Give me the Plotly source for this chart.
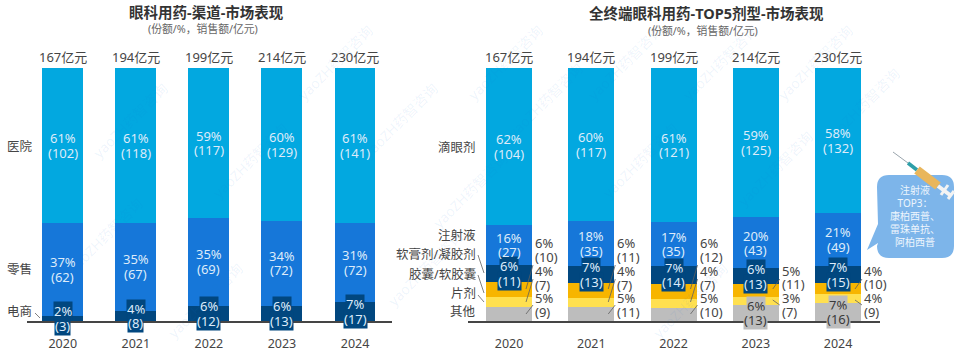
import plotly.graph_objects as go

years = [2020, 2021, 2022, 2023, 2024]
totals = ["167亿元", "194亿元", "199亿元", "214亿元", "230亿元"]

ch_names = ["电商", "零售", "医院"]
ch_sales = [[3, 8, 12, 13, 17], [62, 67, 69, 72, 72], [102, 118, 117, 129, 141]]
ch_share = [[2, 4, 6, 6, 7], [37, 35, 35, 34, 31], [61, 61, 59, 60, 61]]

df_names = ["其他", "片剂", "胶囊/软胶囊", "软膏剂/凝胶剂", "注射液", "滴眼剂"]
df_sales = [[9, 11, 10, 13, 16], [7, 7, 7, 7, 9], [10, 11, 12, 11, 10],
            [11, 13, 14, 13, 15], [27, 35, 35, 43, 49], [104, 117, 121, 125, 132]]
df_share = [[5, 5, 5, 6, 7], [4, 4, 4, 3, 4], [6, 6, 6, 5, 4],
            [6, 7, 7, 6, 7], [16, 18, 17, 20, 21], [62, 60, 61, 59, 58]]

W, H = 960, 354
FONT = "Noto Sans, Noto Sans CJK SC, sans-serif"
TXT = "#454545"
LIGHT = "#DDEBFA"
C_LIGHT, C_BLUE, C_NAVY, C_ORANGE, C_YELLOW, C_GRAY = "#02A8E0", "#1677D9", "#01477F", "#F7B500", "#FFE050", "#BDBDBD"
ch_colors = [C_NAVY, C_BLUE, C_LIGHT]
df_colors = [C_GRAY, C_YELLOW, C_ORANGE, C_NAVY, C_BLUE, C_LIGHT]
BASE, TOP = 321, 68
LABEL_SIZE = 13
LINE_GAP = 14.5


def px(x):
    return x / W


def py(y):
    return 1 - y / H


fig = go.Figure()
for names, sales, colors, xa, ya, width in [
    (ch_names, ch_sales, ch_colors, "x", "y", 0.56),
    (df_names, df_sales, df_colors, "x2", "y2", 0.56),
]:
    for n, s, c in zip(names, sales, colors):
        fig.add_bar(x=years, y=s, name=n, marker=dict(color=c, line_width=0), width=width,
                    xaxis=xa, yaxis=ya, showlegend=False)

anns = []
shapes = []


def add_text(text, x, y, size=12, color=TXT, xanchor="center", yanchor="middle", **kw):
    anns.append(dict(text=text, x=px(x), y=py(y), xref="paper", yref="paper", showarrow=False,
                     font=dict(size=size, color=color, family=FONT), xanchor=xanchor, yanchor=yanchor,
                     borderpad=0, borderwidth=0, **kw))


def add_line(x0, y0, x1, y1, color="#606060", width=0.8, **kw):
    shapes.append(dict(type="line", xref="paper", yref="paper", x0=px(x0), x1=px(x1), y0=py(y0), y1=py(y1),
                       line=dict(color=color, width=width), **kw))


# watermark first, so that it stays beneath the labels
for x, y in [(335, 62), (105, 235), (425, 268), (505, 62), (625, 62), (545, 100), (720, 62), (815, 62),
             (862, 105), (775, 168), (470, 190), (690, 300), (205, 300), (130, 120), (640, 160), (400, 120), (250, 160)]:
    add_text("yaoZH药智咨询", x, y, size=14, color="rgba(30,120,210,0.08)", textangle=-45)


def seg_labels(sales, shares, colors, xref, yref, inside_filter):
    for j, yr in enumerate(years):
        tot = sum(s[j] for s in sales)
        cum = 0
        for i, s in enumerate(sales):
            mid = (cum + s[j] / 2) / tot * 100
            cum += s[j]
            if not inside_filter(i, j):
                continue
            col = colors[i]
            tc = LIGHT if col in (C_LIGHT, C_BLUE, C_NAVY) else "#3A3A3A"
            for line, shift in ((f"{shares[i][j]}%", LINE_GAP / 2), (f"({s[j]})", -LINE_GAP / 2)):
                a = dict(text=line, x=yr, y=mid, yshift=shift, xref=xref, yref=yref, showarrow=False,
                         font=dict(size=LABEL_SIZE, color=tc, family=FONT), borderpad=0)
                if col in (C_NAVY, C_GRAY):
                    a["bgcolor"] = col
                anns.append(a)


seg_labels(ch_sales, ch_share, ch_colors, "x", "y", lambda i, j: True)
seg_labels(df_sales, df_share, df_colors, "x2", "y2",
           lambda i, j: i >= 3 or (i == 0 and j >= 3))

# totals above the bars
for j, yr in enumerate(years):
    for xr, yr_ref in (("x", "y"), ("x2", "y2")):
        anns.append(dict(text=totals[j], x=yr, y=100, xref=xr, yref=yr_ref, yshift=11, showarrow=False,
                         font=dict(size=13, color=TXT, family=FONT)))

# outside labels of the right-hand panel
centers = [509 + 82.25 * j for j in range(5)]
half = 23


def outside(j, idx, y1, y2):
    xl = centers[j] + half + 3
    add_text(f"{df_share[idx][j]}%", xl, y1, size=LABEL_SIZE, xanchor="left")
    add_text(f"({df_sales[idx][j]})", xl, y2, size=LABEL_SIZE, xanchor="left")


for j in range(5):
    edge = centers[j] + half
    if j < 3:
        outside(j, 2, 243, 257)
        outside(j, 1, 271, 285)
        outside(j, 0, 298, 312)
        for (a, b, c, d) in ((1, 265, -6, 289), (1, 279, -6, 302), (1, 305, -6, 314)):
            add_line(edge + a, b, edge + c, d)
    else:
        outside(j, 2, 271, 284)
        outside(j, 1, 298, 312)
        add_line(edge + 1, 279, edge - 6, 289)
        add_line(edge + 1, 305, edge - 6, 300)

# series names
add_text("医院", 7, 146, size=12.5, xanchor="left")
add_text("零售", 7, 269, size=12.5, xanchor="left")
add_text("电商", 7, 311, size=12.5, xanchor="left")
add_line(35, 313, 40, 318)
for name, y in (("滴眼剂", 147), ("注射液", 235), ("软膏剂/凝胶剂", 254), ("胶囊/软胶囊", 274), ("片剂", 293), ("其他", 311)):
    add_text(name, 476, y, size=12.5, xanchor="right")
add_line(478, 255, 484, 273)
add_line(478, 275, 484, 293)
add_line(478, 295, 484, 302)

# titles
add_text("<b>眼科用药-渠道-市场表现</b>", 206, 12, size=14.5, color="#333333")
add_text("(份额/%，销售额/亿元)", 203, 29, size=10.8, color="#666666")
add_text("<b>全终端眼科用药-TOP5剂型-市场表现</b>", 706, 13, size=14.5, color="#333333")
add_text("(份额/%，销售额/亿元)", 703, 30, size=10.8, color="#666666")

# callout bubble
bx0, by0, bx1, by1, r = px(877), py(175), px(954), py(258), 12
rx, ry = r / W, r / H
path = (f"M {bx0 + rx} {by0} L {bx1 - rx} {by0} Q {bx1} {by0} {bx1} {by0 - ry} L {bx1} {by1 + ry} "
        f"Q {bx1} {by1} {bx1 - rx} {by1} L {bx0 + rx} {by1} Q {bx0} {by1} {bx0} {by1 + ry} "
        f"L {px(878)} {py(243)} L {px(867)} {py(250)} L {px(878)} {py(224)} L {bx0} {by0 - ry} Q {bx0} {by0} {bx0 + rx} {by0} Z")
shapes.append(dict(type="path", xref="paper", yref="paper", path=path, fillcolor="#7DB5EA", line_width=0))
add_text("注射液<br>TOP3：<br>康柏西普、<br>雷珠单抗、<br>阿柏西普", 915, 216, size=10, color="#EEF5FD")

# syringe
add_line(893, 152, 908, 163, color="#9AA5AD", width=1)
add_line(908, 163, 917, 170, color="#2E9FA8", width=3.5)
add_line(917, 170, 938, 186, color="#E9B65C", width=9)
add_line(938, 186, 950, 195, color="#F3F3F3", width=4)
add_line(941, 195, 948, 185, color="#F3F3F3", width=3)
add_line(948, 199, 954, 191, color="#F3F3F3", width=3)

axis_common = dict(tickvals=years, ticks="outside", ticklen=10, tickcolor="rgba(0,0,0,0)", tickwidth=0,
                   showgrid=False, zeroline=False, showline=True, linecolor="#454545", linewidth=1.5,
                   tickfont=dict(size=12.5, color=TXT, family=FONT))

fig.update_layout(
    width=W, height=H, autosize=False, margin=dict(l=0, r=0, t=0, b=0),
    paper_bgcolor="white", plot_bgcolor="rgba(0,0,0,0)",
    barmode="stack", barnorm="percent", font=dict(family=FONT, color=TXT),
    annotations=anns, shapes=shapes,
    xaxis=dict(domain=[px(27), px(392)], range=[2019.511, 2024.506], anchor="y", **axis_common),
    yaxis=dict(domain=[py(BASE), py(TOP)], range=[0, 100], visible=False, anchor="x"),
    xaxis2=dict(domain=[px(468), px(880)], range=[2019.50, 2024.51], anchor="y2", **axis_common),
    yaxis2=dict(domain=[py(BASE), py(TOP)], range=[0, 100], visible=False, anchor="x2"),
)

fig.write_html("out.html", config=dict(displayModeBar=False),
               post_script="document.body.style.margin='0';document.documentElement.style.overflow='hidden';")
